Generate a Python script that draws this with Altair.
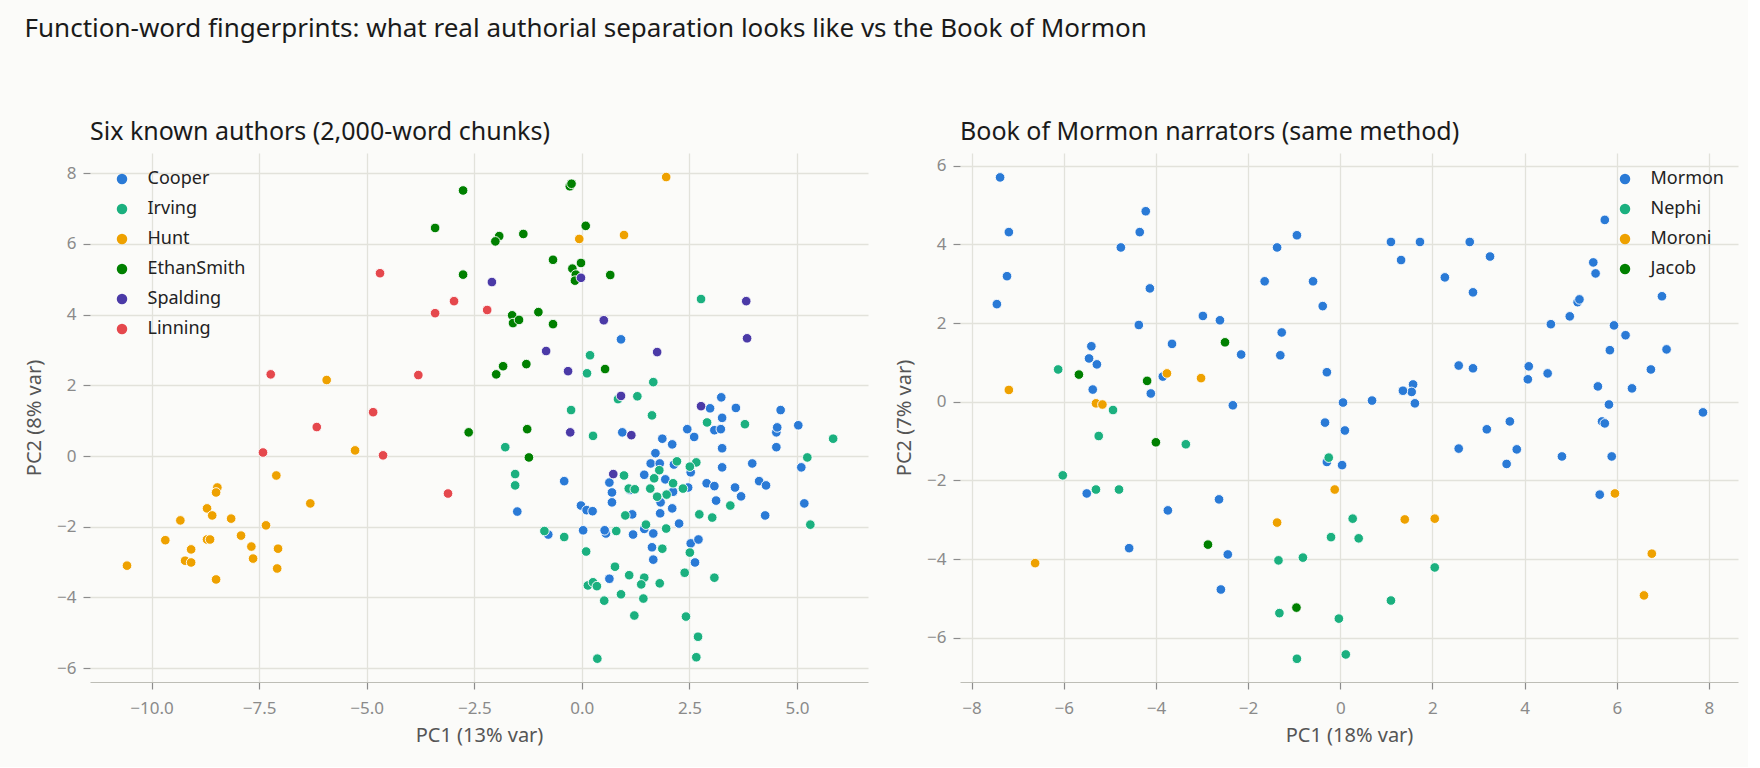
import altair as alt
import pandas as pd

# ---- Six known authors: (PC1, PC2) per 2,000-word chunk ----
cooper = [
    (0.91, 3.30), (3.24, 1.66), (2.98, 1.35), (3.58, 1.36), (4.62, 1.30), (3.26, 1.08),
    (5.03, 0.87), (3.08, 0.73), (3.23, 0.76), (4.52, 0.67), (4.54, 0.81), (2.45, 0.76),
    (2.61, 0.54), (1.87, 0.49), (2.10, 0.33), (3.26, 0.22), (4.52, 0.25), (0.94, 0.67),
    (1.71, 0.08), (3.96, -0.21), (5.10, -0.32), (2.53, -0.46), (3.26, -0.32), (1.60, -0.21),
    (1.81, -0.21), (1.45, -0.53), (2.14, -0.24), (-0.41, -0.71), (0.64, -0.75), (0.70, -1.03),
    (0.70, -1.31), (1.94, -0.66), (2.12, -1.01), (1.83, -1.31), (2.47, -0.89), (2.90, -0.77),
    (3.08, -0.85), (3.56, -0.89), (3.70, -1.14), (3.12, -1.26), (4.12, -0.71), (4.28, -0.83),
    (5.17, -1.34), (4.26, -1.68), (2.10, -1.48), (1.82, -1.62), (-1.50, -1.57), (-0.02, -1.40),
    (0.11, -1.53), (0.25, -1.56), (1.17, -1.65), (1.45, -2.06), (2.26, -1.91), (1.66, -2.19),
    (1.19, -2.22), (0.03, -2.10), (0.56, -2.19), (0.53, -2.10), (-0.78, -2.22), (1.63, -2.58),
    (1.66, -2.93), (2.53, -2.47), (2.71, -2.36), (2.63, -3.01), (0.64, -3.47), (1.12, -0.96),
]
irving = [
    (2.77, 4.44), (0.19, 2.85), (0.12, 2.34), (1.66, 2.09), (0.84, 1.61), (1.29, 1.69),
    (-0.25, 1.30), (1.63, 1.15), (2.91, 0.95), (3.79, 0.90), (5.84, 0.49), (0.26, 0.57),
    (-1.78, 0.25), (5.24, -0.04), (2.21, -0.15), (2.66, -0.18), (2.51, -0.30), (1.80, -0.40),
    (0.98, -0.55), (-1.55, -0.51), (-1.55, -0.83), (1.09, -0.92), (1.23, -0.94), (1.59, -0.92),
    (1.68, -0.63), (2.12, -0.77), (1.97, -1.09), (1.75, -1.15), (2.35, -0.92), (3.45, -1.40),
    (5.31, -1.94), (2.73, -1.65), (3.03, -1.74), (1.01, -1.68), (1.49, -1.94), (1.96, -2.05),
    (0.80, -2.12), (-0.87, -2.12), (-0.41, -2.29), (1.87, -2.62), (2.51, -2.73), (0.10, -2.70),
    (0.77, -3.13), (1.10, -3.37), (1.45, -3.44), (1.38, -3.63), (1.81, -3.60), (0.14, -3.66),
    (0.26, -3.57), (0.35, -3.68), (0.52, -4.09), (0.91, -3.91), (1.43, -4.03), (1.22, -4.51),
    (2.39, -3.30), (3.08, -3.44), (2.42, -4.54), (2.70, -5.11), (2.66, -5.69), (0.36, -5.73),
]
hunt = [
    (-5.93, 2.15), (-5.27, 0.16), (-7.10, -0.55), (-6.31, -1.34), (-8.47, -0.89), (-8.50, -1.03),
    (-8.71, -1.48), (-8.59, -1.68), (-9.33, -1.82), (-8.15, -1.77), (-7.34, -1.96), (-9.68, -2.38),
    (-8.71, -2.36), (-8.64, -2.36), (-7.92, -2.25), (-7.68, -2.56), (-7.06, -2.62), (-9.08, -2.64),
    (-9.22, -2.96), (-9.08, -3.01), (-7.64, -2.90), (-7.08, -3.18), (-10.57, -3.10), (-8.50, -3.49),
    (1.96, 7.89), (-0.06, 6.14), (0.98, 6.25),
]
ethan_smith = [
    (-2.76, 7.51), (-3.41, 6.45), (-2.76, 5.13), (-2.63, 0.67), (-0.28, 7.63), (-0.24, 7.70),
    (0.09, 6.51), (-1.92, 6.22), (-2.01, 6.07), (-1.36, 6.28), (-0.67, 5.55), (-0.22, 5.30),
    (-0.02, 5.46), (-0.14, 5.13), (-0.16, 4.96), (0.66, 5.12), (-1.62, 3.98), (-1.60, 3.76),
    (-1.46, 3.85), (-1.01, 4.07), (-0.67, 3.73), (-1.83, 2.54), (-1.99, 2.31), (-1.29, 2.60),
    (0.54, 2.46), (-1.27, 0.76), (-1.23, -0.04),
]
spalding = [
    (-2.09, 4.92), (-0.02, 5.04), (3.82, 4.38), (0.51, 3.84), (3.84, 3.33), (-0.83, 2.97),
    (1.75, 2.94), (-0.32, 2.40), (0.91, 1.70), (2.77, 1.41), (-0.27, 0.67), (1.15, 0.59),
    (0.73, -0.51),
]
linning = [
    (-4.69, 5.17), (-2.97, 4.38), (-3.41, 4.04), (-7.23, 2.31), (-3.80, 2.29), (-4.85, 1.24),
    (-6.16, 0.82), (-7.41, 0.10), (-4.62, 0.02), (-3.11, -1.06), (-2.20, 4.13),
]

# ---- Book of Mormon narrators: (PC1, PC2) per chunk ----
mormon = [
    (-7.38, 5.70), (-7.19, 4.31), (-7.23, 3.19), (-7.45, 2.48), (-4.22, 4.84), (-4.35, 4.31),
    (-4.76, 3.92), (-4.13, 2.88), (-4.37, 1.95), (-2.98, 2.18), (-2.61, 2.07), (-0.94, 4.23),
    (-1.37, 3.92), (-1.64, 3.06), (-0.59, 3.06), (-0.38, 2.43), (-1.27, 1.76), (-1.30, 1.18),
    (-0.29, 0.75), (0.06, -0.02), (-2.33, -0.09), (-2.15, 1.20), (-3.65, 1.47), (-5.40, 1.41),
    (-5.45, 1.10), (-5.28, 0.95), (-3.85, 0.64), (-5.37, 0.31), (-4.11, 0.21), (-0.33, -0.53),
    (0.10, -0.73), (-0.29, -1.53), (0.04, -1.61), (-5.50, -2.33), (-3.74, -2.76), (-2.63, -2.48),
    (-4.58, -3.72), (-2.44, -3.88), (-2.59, -4.77),
    (5.74, 4.62), (1.10, 4.06), (1.73, 4.06), (2.81, 4.06), (1.32, 3.60), (3.25, 3.69),
    (2.27, 3.16), (2.88, 2.78), (5.49, 3.54), (5.54, 3.26), (6.98, 2.68), (5.15, 2.53),
    (5.19, 2.60), (4.98, 2.17), (4.57, 1.97), (5.94, 1.94), (6.19, 1.69), (5.85, 1.31),
    (7.08, 1.33), (6.74, 0.82), (6.33, 0.34), (5.59, 0.39), (5.83, -0.07), (7.87, -0.27),
    (4.09, 0.90), (4.07, 0.57), (4.50, 0.72), (2.57, 0.92), (2.88, 0.85), (1.58, 0.44),
    (1.55, 0.25), (1.36, 0.28), (1.62, -0.04), (0.69, 0.03), (3.18, -0.70), (3.68, -0.50),
    (5.68, -0.50), (5.74, -0.55), (2.57, -1.19), (3.83, -1.21), (3.61, -1.58), (4.81, -1.39),
    (5.89, -1.39), (5.63, -2.36),
]
nephi = [
    (-6.12, 0.82), (-4.93, -0.21), (-5.24, -0.87), (-3.35, -1.08), (-0.25, -1.42), (-6.02, -1.87),
    (-5.30, -2.23), (-4.80, -2.23), (0.27, -2.97), (-0.20, -3.44), (-1.34, -4.03), (-0.81, -3.96),
    (-1.32, -5.37), (-0.03, -5.51), (-0.94, -6.53), (0.12, -6.42), (0.40, -3.47), (2.05, -4.21),
    (1.10, -5.05),
]
moroni = [
    (-3.76, 0.72), (-3.02, 0.60), (-7.19, 0.30), (-5.30, -0.04), (-5.16, -0.07), (-0.12, -2.23),
    (-1.37, -3.07), (-6.62, -4.10), (5.96, -2.33), (1.40, -2.99), (2.05, -2.97), (6.76, -3.86),
    (6.59, -4.92),
]
jacob = [
    (-2.50, 1.51), (-5.67, 0.69), (-4.19, 0.53), (-4.00, -1.03), (-2.87, -3.63), (-0.95, -5.23),
]

authors = ["Cooper", "Irving", "Hunt", "EthanSmith", "Spalding", "Linning"]
author_colors = ["#2a7ad6", "#1bb07f", "#eea100", "#008000", "#4b3aa7", "#e5484d"]
narrators = ["Mormon", "Nephi", "Moroni", "Jacob"]
narrator_colors = ["#2a7ad6", "#1bb07f", "#eea100", "#008000"]


def long_table(names, groups):
    rows = []
    for name, pts in zip(names, groups):
        for x, y in pts:
            rows.append({"pc1": x, "pc2": y, "who": name, "idx": len(rows)})
    return pd.DataFrame(rows)


known_df = long_table(authors, [cooper, irving, hunt, ethan_smith, spalding, linning])
bom_df = long_table(narrators, [mormon, nephi, moroni, jacob])

FONT = "Noto Sans"
W, H = 778, 529


def axis(title, values, fmt, domain=True, label_pad=7, title_pad=12):
    return alt.Axis(
        title=title, values=values, format=fmt, grid=True, domain=domain,
        domainColor="#bdbdb6", domainWidth=1.2,
        tickColor="#8c8c8c", tickSize=7, tickWidth=1.2,
        labelColor="#8a8a8a", labelFontSize=17, labelPadding=label_pad, labelFont=FONT,
        titleColor="#555555", titleFontSize=20, titleFontWeight="normal", titleFont=FONT,
        titlePadding=title_pad,
        gridColor="#e2e2db", gridWidth=1.3,
    )


def legend(x):
    return alt.Legend(
        title=None, orient="none", legendX=x, legendY=17, padding=0,
        labelFontSize=18, labelFont=FONT, labelColor="#222222",
        symbolType="circle", symbolSize=110, symbolStrokeWidth=0,
        labelOffset=16.5, rowPadding=12,
    )


def panel(df, names, colors, title, xdom, ydom, xvals, yvals, xfmt, xtitle, ytitle, legend_x):
    return (
        alt.Chart(df)
        .mark_circle(size=92, opacity=1, stroke="white", strokeWidth=0.9)
        .encode(
            x=alt.X("pc1:Q", scale=alt.Scale(domain=xdom, nice=False, zero=False),
                    axis=axis(xtitle, xvals, xfmt, label_pad=11, title_pad=9)),
            y=alt.Y("pc2:Q", scale=alt.Scale(domain=ydom, nice=False, zero=False),
                    axis=axis(ytitle, yvals, "d", domain=False)),
            color=alt.Color("who:N", scale=alt.Scale(domain=names, range=colors),
                            legend=legend(legend_x)),
            order=alt.Order("idx:Q"),
        )
        .properties(
            width=W, height=H,
            title=alt.TitleParams(title, anchor="start", frame="group", fontSize=25, font=FONT,
                                  fontWeight="normal", color="#1a1a1a", offset=8),
        )
    )


left = panel(
    known_df, authors, author_colors, "Six known authors (2,000-word chunks)",
    [-11.43, 6.65], [-6.39, 8.57],
    [-10, -7.5, -5, -2.5, 0, 2.5, 5], [-6, -4, -2, 0, 2, 4, 6, 8], ".1f",
    "PC1 (13% var)", "PC2 (8% var)", 23,
)
right = panel(
    bom_df, narrators, narrator_colors, "Book of Mormon narrators (same method)",
    [-8.25, 8.63], [-7.12, 6.32],
    [-8, -6, -4, -2, 0, 2, 4, 6, 8], [-6, -4, -2, 0, 2, 4, 6], "d",
    "PC1 (18% var)", "PC2 (7% var)", 656,
)

chart = (
    alt.hconcat(left, right, spacing=26)
    .resolve_scale(color="independent")
    .properties(
        title=alt.TitleParams(
            "Function-word fingerprints: what real authorial separation looks like vs the Book of Mormon",
            anchor="start", fontSize=26, font=FONT, fontWeight="normal", color="#1a1a1a", offset=78,
        ),
        padding={"left": 24, "top": 16, "right": 10, "bottom": 22},
        background="#fbfbf9",
    )
    .configure_view(stroke=None)
)

chart.save("out.html", embed_options={"renderer": "svg", "actions": False})
